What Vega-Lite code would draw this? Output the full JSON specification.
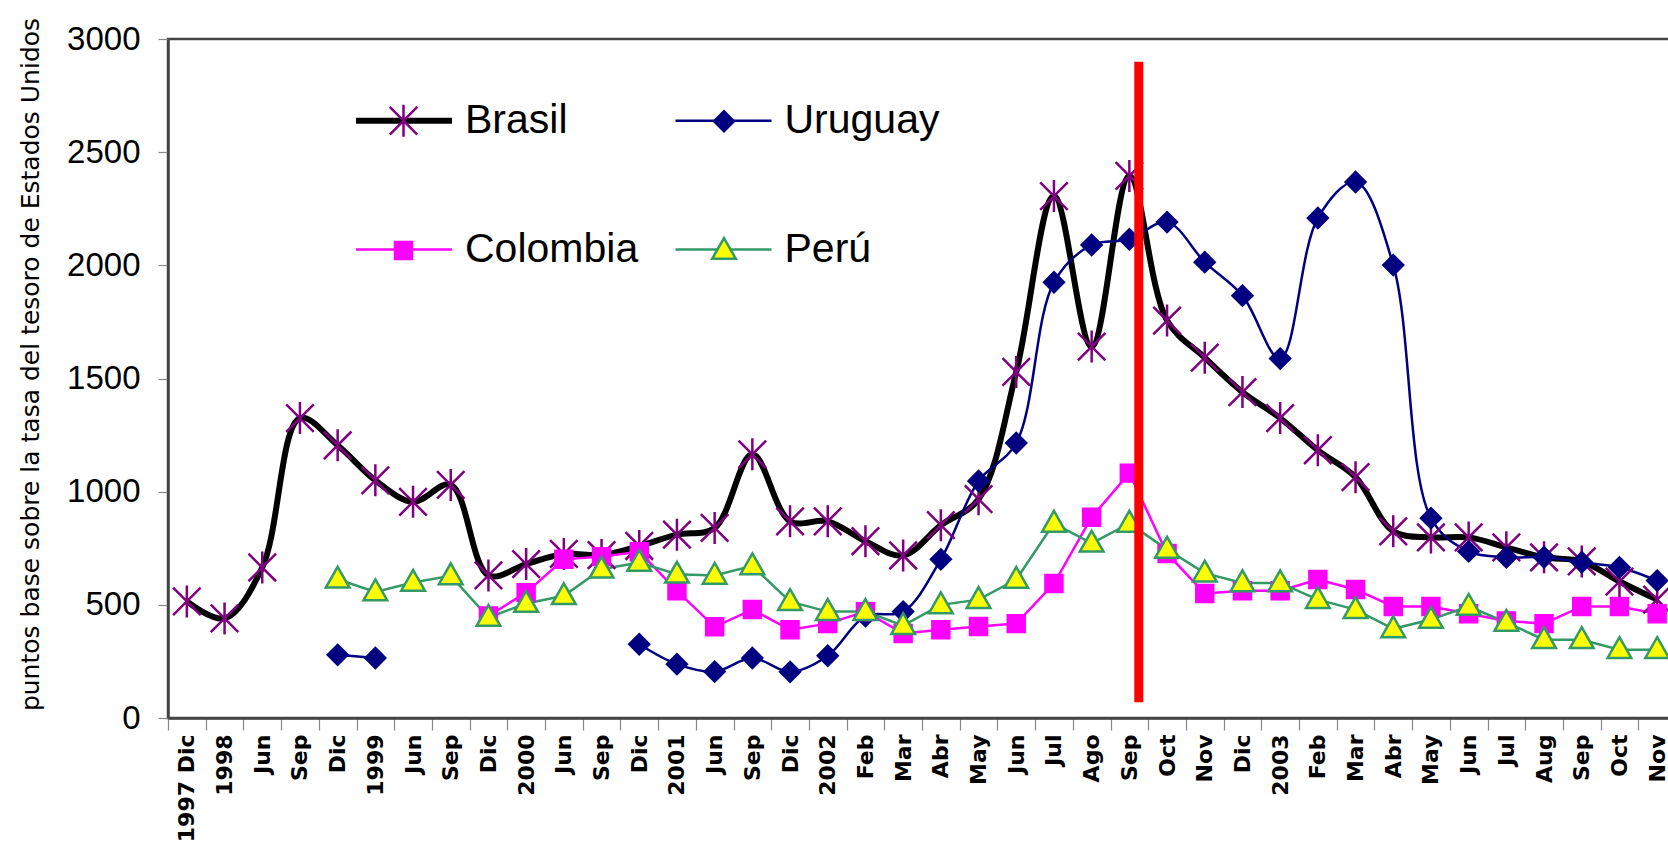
{
  "$schema": "https://vega.github.io/schema/vega-lite/v6.json",
  "width": 1508,
  "height": 679,
  "autosize": {"type": "none"},
  "padding": {"left": 168, "top": 39, "right": -8, "bottom": 143},
  "background": "white",
  "config": {
    "view": {"stroke": "#444444", "strokeWidth": 2.5},
    "axis": {"grid": false, "domainColor": "#444444", "domainWidth": 2.5, "tickColor": "#888888", "tickWidth": 1.2, "labelColor": "black", "titleColor": "black"},
    "legend": {"padding": 0, "titlePadding": 0, "labelLimit": 400}
  },
  "data": {"values": [
    {"m":"00|1997 Dic","s":"Brasil","v":515},{"m":"01|1998","s":"Brasil","v":440},{"m":"02|Jun","s":"Brasil","v":665},{"m":"03|Sep","s":"Brasil","v":1325},{"m":"04|Dic","s":"Brasil","v":1205},{"m":"05|1999","s":"Brasil","v":1050},{"m":"06|Jun","s":"Brasil","v":955},{"m":"07|Sep","s":"Brasil","v":1030},{"m":"08|Dic","s":"Brasil","v":630},{"m":"09|2000","s":"Brasil","v":680},{"m":"10|Jun","s":"Brasil","v":725},{"m":"11|Sep","s":"Brasil","v":720},{"m":"12|Dic","s":"Brasil","v":760},{"m":"13|2001","s":"Brasil","v":810},{"m":"14|Jun","s":"Brasil","v":840},{"m":"15|Sep","s":"Brasil","v":1165},{"m":"16|Dic","s":"Brasil","v":869},{"m":"17|2002","s":"Brasil","v":869},{"m":"18|Feb","s":"Brasil","v":781},{"m":"19|Mar","s":"Brasil","v":718},{"m":"20|Abr","s":"Brasil","v":852},{"m":"21|May","s":"Brasil","v":967},{"m":"22|Jun","s":"Brasil","v":1529},{"m":"23|Jul","s":"Brasil","v":2306},{"m":"24|Ago","s":"Brasil","v":1641},{"m":"25|Sep","s":"Brasil","v":2395},{"m":"26|Oct","s":"Brasil","v":1756},{"m":"27|Nov","s":"Brasil","v":1592},{"m":"28|Dic","s":"Brasil","v":1440},{"m":"29|2003","s":"Brasil","v":1325},{"m":"30|Feb","s":"Brasil","v":1183},{"m":"31|Mar","s":"Brasil","v":1064},{"m":"32|Abr","s":"Brasil","v":825},{"m":"33|May","s":"Brasil","v":798},{"m":"34|Jun","s":"Brasil","v":798},{"m":"35|Jul","s":"Brasil","v":754},{"m":"36|Aug","s":"Brasil","v":710},{"m":"37|Sep","s":"Brasil","v":692},{"m":"38|Oct","s":"Brasil","v":603},{"m":"39|Nov","s":"Brasil","v":523},
    {"m":"04|Dic","s":"Uruguay","v":279,"t":"a"},{"m":"05|1999","s":"Uruguay","v":265,"t":"a"},
    {"m":"12|Dic","s":"Uruguay","v":326,"t":"b"},{"m":"13|2001","s":"Uruguay","v":238,"t":"b"},{"m":"14|Jun","s":"Uruguay","v":205,"t":"b"},{"m":"15|Sep","s":"Uruguay","v":265,"t":"b"},{"m":"16|Dic","s":"Uruguay","v":204,"t":"b"},{"m":"17|2002","s":"Uruguay","v":275,"t":"b"},{"m":"18|Feb","s":"Uruguay","v":450,"t":"b"},{"m":"19|Mar","s":"Uruguay","v":470,"t":"b"},{"m":"20|Abr","s":"Uruguay","v":701,"t":"b"},{"m":"21|May","s":"Uruguay","v":1047,"t":"b"},{"m":"22|Jun","s":"Uruguay","v":1215,"t":"b"},{"m":"23|Jul","s":"Uruguay","v":1925,"t":"b"},{"m":"24|Ago","s":"Uruguay","v":2090,"t":"b"},{"m":"25|Sep","s":"Uruguay","v":2115,"t":"b"},{"m":"26|Oct","s":"Uruguay","v":2191,"t":"b"},{"m":"27|Nov","s":"Uruguay","v":2014,"t":"b"},{"m":"28|Dic","s":"Uruguay","v":1866,"t":"b"},{"m":"29|2003","s":"Uruguay","v":1588,"t":"b"},{"m":"30|Feb","s":"Uruguay","v":2209,"t":"b"},{"m":"31|Mar","s":"Uruguay","v":2368,"t":"b"},{"m":"32|Abr","s":"Uruguay","v":2001,"t":"b"},{"m":"33|May","s":"Uruguay","v":883,"t":"b"},{"m":"34|Jun","s":"Uruguay","v":736,"t":"b"},{"m":"35|Jul","s":"Uruguay","v":710,"t":"b"},{"m":"36|Aug","s":"Uruguay","v":710,"t":"b"},{"m":"37|Sep","s":"Uruguay","v":688,"t":"b"},{"m":"38|Oct","s":"Uruguay","v":665,"t":"b"},{"m":"39|Nov","s":"Uruguay","v":607,"t":"b"},
    {"m":"08|Dic","s":"Colombia","v":451},{"m":"09|2000","s":"Colombia","v":554},{"m":"10|Jun","s":"Colombia","v":701},{"m":"11|Sep","s":"Colombia","v":713},{"m":"12|Dic","s":"Colombia","v":735},{"m":"13|2001","s":"Colombia","v":562},{"m":"14|Jun","s":"Colombia","v":403},{"m":"15|Sep","s":"Colombia","v":479},{"m":"16|Dic","s":"Colombia","v":390},{"m":"17|2002","s":"Colombia","v":417},{"m":"18|Feb","s":"Colombia","v":470},{"m":"19|Mar","s":"Colombia","v":373},{"m":"20|Abr","s":"Colombia","v":390},{"m":"21|May","s":"Colombia","v":404},{"m":"22|Jun","s":"Colombia","v":417},{"m":"23|Jul","s":"Colombia","v":594},{"m":"24|Ago","s":"Colombia","v":887},{"m":"25|Sep","s":"Colombia","v":1082},{"m":"26|Oct","s":"Colombia","v":727},{"m":"27|Nov","s":"Colombia","v":550},{"m":"28|Dic","s":"Colombia","v":562},{"m":"29|2003","s":"Colombia","v":562},{"m":"30|Feb","s":"Colombia","v":612},{"m":"31|Mar","s":"Colombia","v":568},{"m":"32|Abr","s":"Colombia","v":493},{"m":"33|May","s":"Colombia","v":493},{"m":"34|Jun","s":"Colombia","v":461},{"m":"35|Jul","s":"Colombia","v":429},{"m":"36|Aug","s":"Colombia","v":417},{"m":"37|Sep","s":"Colombia","v":493},{"m":"38|Oct","s":"Colombia","v":493},{"m":"39|Nov","s":"Colombia","v":461},
    {"m":"04|Dic","s":"Perú","v":613},{"m":"05|1999","s":"Perú","v":557},{"m":"06|Jun","s":"Perú","v":599},{"m":"07|Sep","s":"Perú","v":628},{"m":"08|Dic","s":"Perú","v":444},{"m":"09|2000","s":"Perú","v":506},{"m":"10|Jun","s":"Perú","v":540},{"m":"11|Sep","s":"Perú","v":657},{"m":"12|Dic","s":"Perú","v":687},{"m":"13|2001","s":"Perú","v":635},{"m":"14|Jun","s":"Perú","v":630},{"m":"15|Sep","s":"Perú","v":672},{"m":"16|Dic","s":"Perú","v":514},{"m":"17|2002","s":"Perú","v":470},{"m":"18|Feb","s":"Perú","v":470},{"m":"19|Mar","s":"Perú","v":408},{"m":"20|Abr","s":"Perú","v":500},{"m":"21|May","s":"Perú","v":523},{"m":"22|Jun","s":"Perú","v":612},{"m":"23|Jul","s":"Perú","v":860},{"m":"24|Ago","s":"Perú","v":772},{"m":"25|Sep","s":"Perú","v":860},{"m":"26|Oct","s":"Perú","v":745},{"m":"27|Nov","s":"Perú","v":640},{"m":"28|Dic","s":"Perú","v":597},{"m":"29|2003","s":"Perú","v":597},{"m":"30|Feb","s":"Perú","v":523},{"m":"31|Mar","s":"Perú","v":479},{"m":"32|Abr","s":"Perú","v":394},{"m":"33|May","s":"Perú","v":435},{"m":"34|Jun","s":"Perú","v":493},{"m":"35|Jul","s":"Perú","v":422},{"m":"36|Aug","s":"Perú","v":346},{"m":"37|Sep","s":"Perú","v":346},{"m":"38|Oct","s":"Perú","v":302},{"m":"39|Nov","s":"Perú","v":302}
  ]},
  "encoding": {
    "x": {
      "field": "m", "type": "nominal", "bandPosition": 0.5,
      "scale": {"type": "band", "paddingInner": 0, "paddingOuter": 0},
      "axis": {"title": null, "labelExpr": "split(datum.value, '|')[1]", "labelAngle": -90, "labelAlign": "right", "labelBaseline": "middle", "tickBand": "extent", "tickSize": 12, "labelPadding": 4, "labelFont": "DejaVu Sans", "labelFontSize": 22, "labelFontWeight": "bold", "labelOverlap": false, "labelBound": false}
    },
    "y": {
      "field": "v", "type": "quantitative",
      "scale": {"domain": [0, 3000], "nice": false},
      "axis": {"values": [0, 500, 1000, 1500, 2000, 2500, 3000], "format": "d", "tickSize": 10, "labelPadding": 18, "labelFont": "Liberation Sans", "labelFontSize": 33, "title": "puntos base sobre la tasa del tesoro de Estados Unidos", "titleFont": "DejaVu Sans", "titleFontSize": 25, "titleFontWeight": "normal", "titleX": -138, "titleY": 325, "titleAngle": -90, "titleAlign": "center", "titleBaseline": "middle"}
    }
  },
  "layer": [
    {
      "layer": [
        {
          "transform": [{"filter": "datum.s === 'Brasil' || datum.s === 'Uruguay'"}],
          "mark": {"type": "line", "interpolate": "catmull-rom"},
          "encoding": {
            "stroke": {"field": "s", "type": "nominal",
              "scale": {"domain": ["Brasil", "Colombia", "Uruguay", "Perú"], "range": ["#000000", "#FF00FF", "#000080", "#339966"]},
              "legend": {"orient": "none", "legendX": 215.5, "legendY": 61, "columns": 2, "symbolType": "stroke", "symbolSize": 9216, "symbolStrokeWidth": 2.5, "labelFont": "Liberation Sans", "labelFontSize": 41, "labelColor": "black", "labelOffset": 40.5, "columnPadding": 31.5, "rowPadding": 87, "title": null,
                "encode": {"symbols": {"update": {"strokeWidth": {"signal": "datum.value === 'Brasil' ? 6 : 2.5"}}}}}
            },
            "detail": {"field": "t", "type": "nominal"},
            "strokeWidth": {"condition": {"test": "datum.s === 'Brasil'", "value": 6}, "value": 2.5}
          }
        },
        {
          "transform": [{"filter": "datum.s === 'Colombia' || datum.s === 'Perú'"}],
          "mark": {"type": "line", "strokeWidth": 2.5},
          "encoding": {
            "stroke": {"field": "s", "type": "nominal",
              "scale": {"domain": ["Brasil", "Colombia", "Uruguay", "Perú"], "range": ["#000000", "#FF00FF", "#000080", "#339966"]},
              "legend": {"orient": "none", "legendX": 215.5, "legendY": 61, "columns": 2, "symbolType": "stroke", "symbolSize": 9216, "symbolStrokeWidth": 2.5, "labelFont": "Liberation Sans", "labelFontSize": 41, "labelColor": "black", "labelOffset": 40.5, "columnPadding": 31.5, "rowPadding": 87, "title": null,
                "encode": {"symbols": {"update": {"strokeWidth": {"signal": "datum.value === 'Brasil' ? 6 : 2.5"}}}}}
            }
          }
        }
      ]
    },
    {
      "mark": {"type": "point", "filled": true, "opacity": 1, "strokeWidth": 2.5, "size": 1024},
      "encoding": {
        "shape": {"field": "s", "type": "nominal", "scale": {"domain": ["Brasil", "Colombia", "Uruguay", "Perú"], "range": ["M0,-1L0,1M-0.86,-0.86L0.86,0.86M-0.86,0.86L0.86,-0.86", "M-0.53,-0.53L0.53,-0.53L0.53,0.53L-0.53,0.53Z", "M-0.62,0L0,-0.62L0.62,0L0,0.62Z", "M0,-0.78L0.74,0.52L-0.74,0.52Z"]},
          "legend": {"orient": "none", "legendX": 215, "legendY": 61, "columns": 2, "symbolSize": 1024, "symbolStrokeWidth": 2.5, "labelFont": "Liberation Sans", "labelFontSize": 41, "labelOpacity": 0, "labelOffset": 40, "columnPadding": 65.5, "rowPadding": 87, "title": null}},
        "fill": {"field": "s", "type": "nominal", "scale": {"domain": ["Brasil", "Colombia", "Uruguay", "Perú"], "range": ["#800080", "#FF00FF", "#000080", "#FFFF00"]},
          "legend": {"orient": "none", "legendX": 215, "legendY": 61, "columns": 2, "symbolSize": 1024, "symbolStrokeWidth": 2.5, "labelFont": "Liberation Sans", "labelFontSize": 41, "labelOpacity": 0, "labelOffset": 40, "columnPadding": 65.5, "rowPadding": 87, "title": null}},
        "stroke": {"field": "s", "type": "nominal", "scale": {"domain": ["Brasil", "Colombia", "Uruguay", "Perú"], "range": ["#800080", "#FF00FF", "#000080", "#339966"]},
          "legend": {"orient": "none", "legendX": 215, "legendY": 61, "columns": 2, "symbolSize": 1024, "symbolStrokeWidth": 2.5, "labelFont": "Liberation Sans", "labelFontSize": 41, "labelOpacity": 0, "labelOffset": 40, "columnPadding": 65.5, "rowPadding": 87, "title": null}}
      }
    },
    {
      "data": {"values": [{"m": "25|Sep", "desde": 70, "hasta": 2900}]},
      "mark": {"type": "rule", "color": "#FF0000", "strokeWidth": 9},
      "encoding": {"x": {"field": "m", "type": "nominal", "bandPosition": 0.75}, "y": {"field": "hasta", "type": "quantitative"}, "y2": {"field": "desde"}}
    }
  ],
  "resolve": {"scale": {"stroke": "independent", "shape": "independent", "fill": "independent"}}
}
